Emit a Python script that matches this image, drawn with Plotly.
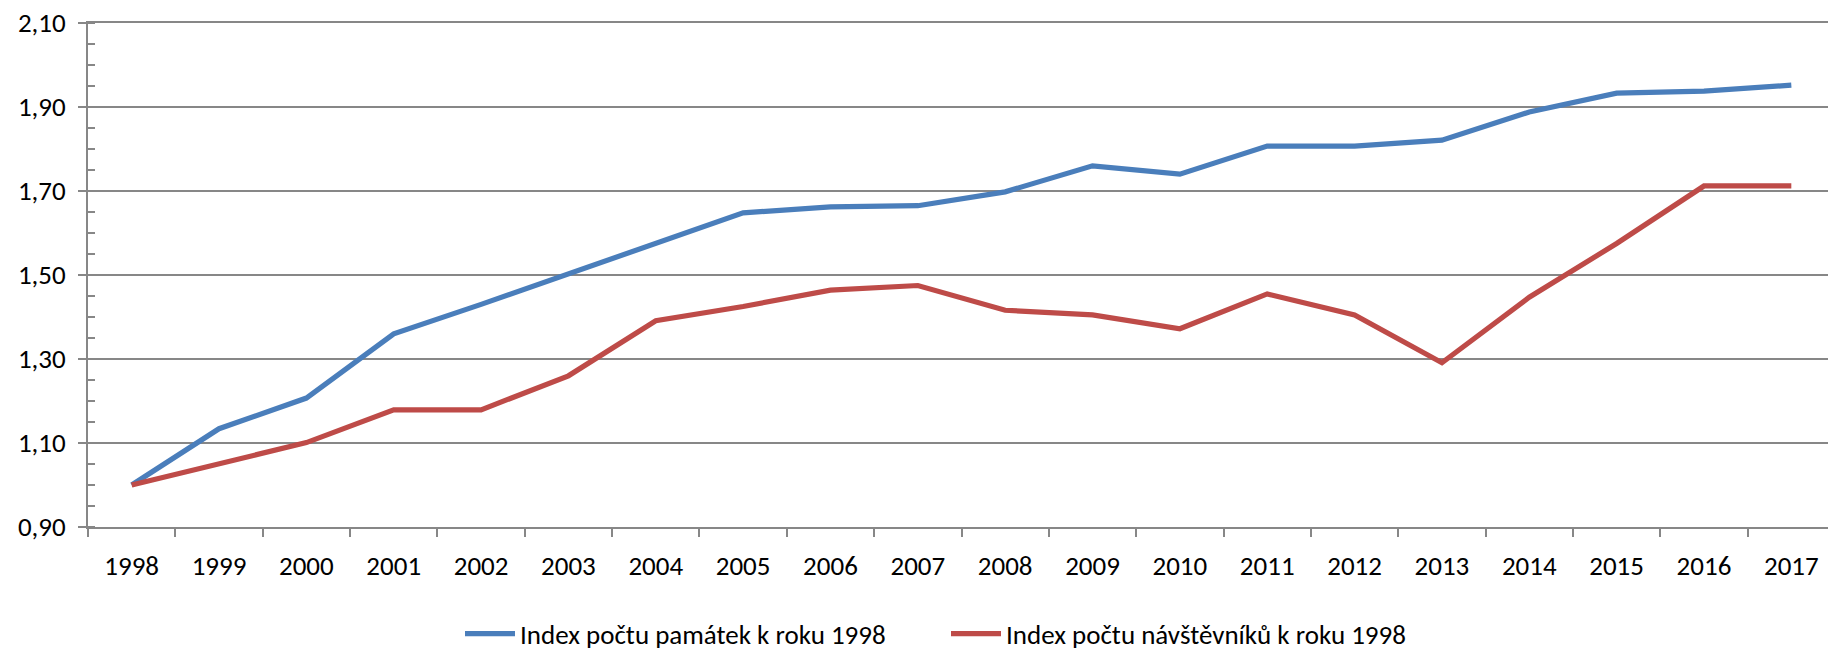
import plotly.graph_objects as go

years = [str(y) for y in range(1998, 2018)]
pamatky = [1.00, 1.134, 1.207, 1.36, 1.43, 1.503, 1.575, 1.648, 1.662, 1.665,
           1.698, 1.76, 1.74, 1.807, 1.807, 1.821, 1.888, 1.933, 1.938, 1.952]
navstevnici = [1.00, 1.051, 1.101, 1.179, 1.179, 1.26, 1.391, 1.425, 1.464, 1.475,
               1.416, 1.405, 1.372, 1.455, 1.405, 1.291, 1.447, 1.575, 1.712, 1.712]
names = ["Index počtu památek k roku 1998", "Index počtu návštěvníků k roku 1998"]
colors = ["#4A7EBB", "#BE4B48"]

FONT = "Carlito, Liberation Sans Narrow, DejaVu Sans Condensed, sans-serif"
GRID = "#878787"

# page body has an 8px margin, so the figure is drawn 8px smaller
W, H = 1828, 641

fig = go.Figure()
for vals, name, col in zip([pamatky, navstevnici], names, colors):
    fig.add_trace(go.Scatter(x=years, y=vals, name=name, mode="lines",
                             line=dict(color=col, width=5.2)))

fig.update_layout(
    width=W, height=H,
    margin=dict(l=80, r=1, t=15, b=122, autoexpand=False),
    plot_bgcolor="white", paper_bgcolor="white",
    separators=", ",
    font=dict(family=FONT, size=27, color="#000000"),
    showlegend=True,
    legend=dict(orientation="h", x=452 / W, xanchor="left", xref="container",
                y=1 - 626 / H, yanchor="middle", yref="container",
                font=dict(size=27), itemwidth=50, tracegroupgap=0,
                entrywidth=421, entrywidthmode="pixels"),
    xaxis=dict(type="category", showgrid=False, showline=True, linecolor=GRID, linewidth=1.8,
               mirror=True, automargin=False,
               ticks="outside", ticklen=8, tickcolor=GRID, tickwidth=1.8,
               tickson="boundaries", range=[-0.5, 19.5], tickfont=dict(size=27),
               ticklabelstandoff=14),
    yaxis=dict(range=[0.9, 2.1], dtick=0.2, tick0=0.9, tickformat=".2f",
               showgrid=True, gridcolor=GRID, gridwidth=1.8, automargin=False,
               showline=True, linecolor=GRID, linewidth=1.8,
               ticks="outside", ticklen=8, tickcolor=GRID, tickwidth=1.8,
               zeroline=False, tickfont=dict(size=27),
               ticklabeloverflow="allow", ticklabelstandoff=7,
               minor=dict(ticks="inside", dtick=0.05, tick0=0.9, ticklen=7,
                          tickcolor=GRID, tickwidth=1.8, showgrid=False)),
)

fig.write_html("out.html")
